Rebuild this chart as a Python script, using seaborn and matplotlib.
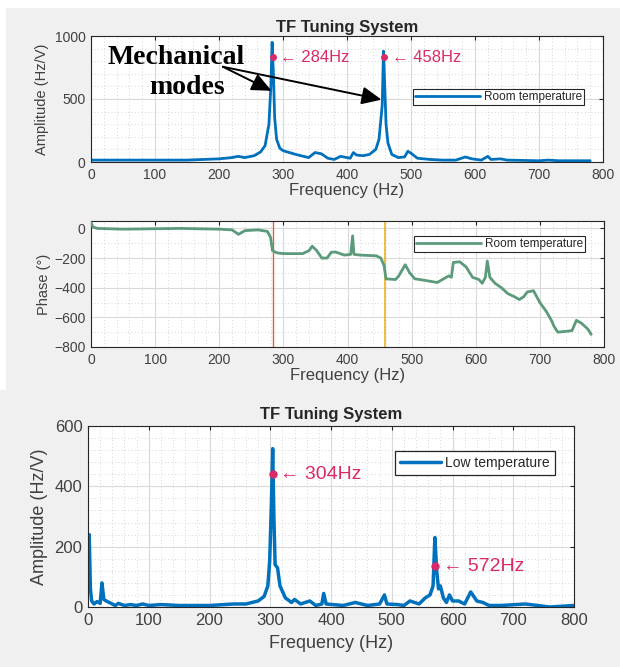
import numpy as np
import pandas as pd
import seaborn as sns
import matplotlib.pyplot as plt
from matplotlib.ticker import MultipleLocator
from matplotlib.patches import Rectangle

# ---------------- data ----------------
room_freq = [0, 50, 100, 150, 200, 220, 230, 240, 255, 265, 272, 278, 281, 283, 285, 287, 290, 295,
             300, 320, 340, 350, 360, 370, 380, 390, 400, 405, 410, 415, 425, 435, 445, 450, 455,
             457, 459, 461, 464, 470, 480, 490, 495, 500, 510, 530, 550, 570, 585, 595, 610, 620,
             625, 640, 650, 700, 715, 730, 780]
room_amp = [15, 15, 15, 15, 25, 35, 45, 35, 50, 80, 130, 300, 600, 950, 700, 350, 180, 110,
            90, 60, 35, 75, 65, 30, 20, 45, 35, 30, 75, 55, 50, 60, 100, 180, 450,
            880, 600, 300, 150, 60, 35, 40, 85, 70, 30, 20, 15, 15, 40, 25, 15, 45,
            20, 25, 15, 10, 15, 10, 10]

phase_freq = [0, 3, 10, 50, 140, 200, 220, 230, 240, 260, 275, 280, 283, 290, 300, 330, 340, 345,
              352, 360, 368, 375, 382, 395, 405, 408, 410, 420, 445, 452, 457, 460, 475, 480, 490,
              497, 505, 520, 540, 550, 558, 562, 565, 575, 585, 595, 605, 610, 615, 618, 622, 630,
              640, 650, 660, 668, 675, 680, 690, 700, 710, 718, 722, 728, 750, 757, 765, 775, 780]
phase_deg = [40, 10, 0, -5, 0, -5, -10, -40, -15, -10, -20, -60, -150, -165, -170, -170, -150, -120,
             -150, -200, -200, -160, -160, -180, -175, -50, -175, -180, -185, -200, -250, -340, -345, -320, -245,
             -300, -340, -350, -365, -340, -320, -330, -230, -225, -260, -330, -345, -370, -330, -220, -330, -370,
             -400, -440, -460, -480, -460, -430, -420, -500, -560, -620, -660, -700, -690, -620, -640, -680, -715]

low_freq = [0, 2, 4, 6, 10, 15, 20, 23, 26, 30, 35, 45, 50, 60, 70, 80, 90, 100, 120, 150, 200,
            240, 260, 280, 290, 296, 299, 302, 304, 306, 308, 312, 316, 325, 335, 340, 350, 365,
            375, 385, 388, 392, 420, 440, 460, 480, 488, 492, 510, 520, 530, 545, 555, 563, 568,
            571, 574, 577, 580, 585, 590, 595, 600, 610, 620, 630, 640, 650, 660, 680, 720, 760, 800]
low_amp = [170, 240, 60, 20, 10, 18, 12, 80, 25, 20, 15, 5, 12, 5, 8, 5, 10, 5, 8, 5, 5,
           10, 10, 20, 35, 70, 150, 350, 525, 300, 140, 130, 70, 30, 15, 25, 10, 20,
           5, 10, 45, 10, 5, 15, 5, 10, 40, 10, 8, 5, 20, 10, 30, 40, 70,
           230, 120, 60, 70, 30, 15, 40, 20, 20, 10, 50, 20, 15, 5, 5, 10, 0, 5]

room_peaks_f = [284, 458]
room_peaks_a = [830, 830]
low_peaks_f = [304, 572]
low_peaks_a = [440, 135]

room_df = pd.DataFrame({"Frequency": room_freq, "Amplitude": room_amp})
phase_df = pd.DataFrame({"Frequency": phase_freq, "Phase": phase_deg})
low_df = pd.DataFrame({"Frequency": low_freq, "Amplitude": low_amp})

# ---------------- style ----------------
sns.set_theme(style="white")
plt.rcParams['font.family'] = ['Liberation Sans', 'DejaVu Sans']

BLUE = "#0072BD"
GREEN = "#5b9a7a"
MARK = "#d92a6a"
BG = "#f0f0f0"
TXT = "#262626"
SERIF = ["Liberation Serif", "DejaVu Serif"]

fig = plt.figure(figsize=(6.2, 6.67), dpi=100)
fig.patch.set_facecolor("white")
fig.patches.append(Rectangle((6 / 620, 1 - 390 / 667), 614 / 620, 382 / 667,
                             transform=fig.transFigure, facecolor=BG, edgecolor="none", zorder=-10))
fig.patches.append(Rectangle((0, 0), 1, 1 - 390 / 667,
                             transform=fig.transFigure, facecolor=BG, edgecolor="none", zorder=-10))

W, H = 620, 667


def make_ax(x0, x1, y0, y1):
    return fig.add_axes([x0 / W, 1 - y1 / H, (x1 - x0) / W, (y1 - y0) / H])


def style_ax(ax, xminor, yminor, fs):
    ax.set_facecolor("white")
    ax.xaxis.set_minor_locator(MultipleLocator(xminor))
    ax.yaxis.set_minor_locator(MultipleLocator(yminor))
    ax.grid(True, which="major", color="#d9d9d9", linewidth=0.8, linestyle="-")
    ax.grid(True, which="minor", color="#c8c8c8", linewidth=0.6, linestyle=(0, (1, 3)))
    ax.set_axisbelow(True)
    for s in ax.spines.values():
        s.set_color("#262626")
        s.set_linewidth(0.8)
    ax.tick_params(axis="both", which="major", direction="in", length=3, width=0.8,
                   colors=TXT, labelsize=fs, top=True, right=True, pad=4)
    ax.tick_params(axis="both", which="minor", length=0, top=True, right=True)
    for lab in ax.get_xticklabels() + ax.get_yticklabels():
        lab.set_color("#404040")


# ---------------- panel 1 ----------------
ax1 = make_ax(91, 603, 36, 162)
sns.lineplot(data=room_df, x="Frequency", y="Amplitude", ax=ax1, color=BLUE, linewidth=2,
             label="Room temperature", sort=False)
ax1.set_xlim(0, 800)
ax1.set_ylim(0, 1000)
ax1.set_xticks(range(0, 801, 100))
ax1.set_yticks([0, 500, 1000])
style_ax(ax1, 20, 100, 10)
ax1.set_title("TF Tuning System", fontsize=12, fontweight="bold", color=TXT, pad=3)
ax1.set_xlabel("Frequency (Hz)", fontsize=12, color="#404040", labelpad=1)
ax1.set_ylabel("Amplitude (Hz/V)", fontsize=10.5, color="#404040", labelpad=4)
ax1.plot(room_peaks_f, room_peaks_a, "o", color=MARK, markersize=4, zorder=5)
for f, a in zip(room_peaks_f, room_peaks_a):
    ax1.text(f + 12, a, "\u2190 %dHz" % f, color=MARK, fontsize=12, va="center", ha="left")
ax1.legend(loc="center right", bbox_to_anchor=(0.975, 0.515), fontsize=8.5, frameon=True,
           fancybox=False, edgecolor="#262626", framealpha=1, handlelength=5.5,
           borderpad=0.2, handletextpad=0.3)
ax1.get_legend().get_frame().set_linewidth(0.8)
ax1.text(133, 830, "Mechanical", fontsize=20, fontweight="bold", ha="center", va="center",
         family=SERIF, color="black", zorder=6)
ax1.text(150, 590, "modes", fontsize=20, fontweight="bold", ha="center", va="center",
         family=SERIF, color="black", zorder=6)
for tip in [(282, 565), (454, 495)]:
    ax1.annotate("", xy=tip, xytext=(206, 756),
                 arrowprops=dict(arrowstyle="-|>,head_length=1.0,head_width=0.45",
                                 color="black", lw=1.4, shrinkA=0, shrinkB=0), zorder=6)

# ---------------- panel 2 ----------------
ax2 = make_ax(91, 604, 221, 347)
ax2.axvline(284, color="#e0603a", linewidth=1.0, zorder=2)
ax2.axvline(458, color="#edb120", linewidth=1.2, zorder=2)
sns.lineplot(data=phase_df, x="Frequency", y="Phase", ax=ax2, color=GREEN, linewidth=2,
             label="Room temperature", sort=False, zorder=3)
ax2.set_xlim(0, 800)
ax2.set_ylim(-800, 50)
ax2.set_xticks(range(0, 801, 100))
ax2.set_yticks([-800, -600, -400, -200, 0])
style_ax(ax2, 20, 100, 10)
ax2.set_xlabel("Frequency (Hz)", fontsize=12, color="#404040", labelpad=1)
ax2.set_ylabel("Phase (\u00b0)", fontsize=10.5, color="#404040", labelpad=2)
ax2.legend(loc="upper right", bbox_to_anchor=(0.975, 0.93), fontsize=8.5, frameon=True,
           fancybox=False, edgecolor="#262626", framealpha=1, handlelength=5.5,
           borderpad=0.2, handletextpad=0.3)
ax2.get_legend().get_frame().set_linewidth(0.8)

# ---------------- panel 3 ----------------
ax3 = make_ax(88, 574, 426, 607)
sns.lineplot(data=low_df, x="Frequency", y="Amplitude", ax=ax3, color=BLUE, linewidth=2.5,
             label="Low temperature", sort=False)
ax3.set_xlim(0, 800)
ax3.set_ylim(0, 600)
ax3.set_xticks(range(0, 801, 100))
ax3.set_yticks([0, 200, 400, 600])
style_ax(ax3, 20, 40, 12)
ax3.set_title("TF Tuning System", fontsize=12, fontweight="bold", color=TXT, pad=5)
ax3.set_xlabel("Frequency (Hz)", fontsize=13, color="#404040", labelpad=5)
ax3.set_ylabel("Amplitude (Hz/V)", fontsize=13, color="#404040", labelpad=5)
ax3.plot(low_peaks_f, low_peaks_a, "o", color=MARK, markersize=5, zorder=5)
for f, a in zip(low_peaks_f, low_peaks_a):
    ax3.text(f + 12, a, "\u2190 %dHz" % f, color=MARK, fontsize=14, va="center", ha="left")
leg3 = ax3.legend(loc="upper right", bbox_to_anchor=(0.975, 0.9), frameon=True,
                  fancybox=False, edgecolor="#262626", framealpha=1, handlelength=3.0,
                  borderpad=0.35, handletextpad=0.3, prop={"size": 10})
leg3.get_frame().set_linewidth(0.9)

fig.savefig("out.png", dpi=100, facecolor=fig.get_facecolor())
